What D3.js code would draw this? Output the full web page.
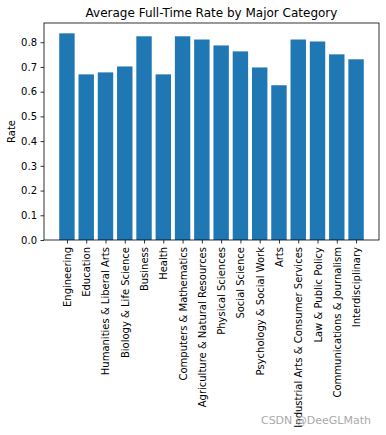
<!DOCTYPE html>
<html>
<head>
<meta charset="utf-8">
<script src="https://cdn.jsdelivr.net/npm/d3@7"></script>
<style>
  body { margin: 0; background: #fff; }
  svg text { font-family: "DejaVu Sans", sans-serif; fill: #000; }
  .axis path, .axis line { stroke: #000; stroke-width: 0.8; }
</style>
</head>
<body>
<svg width="386" height="435"></svg>
<script>
// Major categories (x axis)
var categories = ['Engineering', 'Education', 'Humanities & Liberal Arts', 'Biology & Life Science',
    'Business', 'Health', 'Computers & Mathematics', 'Agriculture & Natural Resources',
    'Physical Sciences', 'Social Science', 'Psychology & Social Work', 'Arts',
    'Industrial Arts & Consumer Services', 'Law & Public Policy', 'Communications & Journalism',
    'Interdisciplinary'];
// Average full-time rate per category
var rates = [0.836, 0.670, 0.678, 0.702, 0.824, 0.670, 0.824, 0.811,
    0.787, 0.763, 0.698, 0.626, 0.811, 0.803, 0.751, 0.731];
var yTicks = [0.0, 0.1, 0.2, 0.3, 0.4, 0.5, 0.6, 0.7, 0.8];

var svg = d3.select('svg');
var padding = {t: 23, r: 7, b: 195, l: 44};
var chartWidth = 386 - padding.l - padding.r;
var chartHeight = 435 - padding.t - padding.b;

var data = categories.map(function(c, i) {
    return {category: c, rate: rates[i], i: i};
});

// matplotlib-like margins around bars
var n = categories.length;
var span = (n - 1) + 0.8;
var xScale = d3.scaleLinear()
    .domain([-0.4 - span * 0.05, n - 1 + 0.4 + span * 0.05])
    .range([0, chartWidth]);

var yMax = d3.max(rates) * 1.05;
var yScale = d3.scaleLinear()
    .domain([0, yMax])
    .range([chartHeight, 0]);

var chartG = svg.append('g')
    .attr('transform', 'translate(' + [padding.l, padding.t] + ')');

chartG.selectAll('.bar')
    .data(data)
    .enter()
    .append('rect')
    .attr('class', 'bar')
    .attr('x', function(d) { return xScale(d.i - 0.4); })
    .attr('width', function(d) { return xScale(d.i + 0.4) - xScale(d.i - 0.4); })
    .attr('y', function(d) { return yScale(d.rate); })
    .attr('height', function(d) { return chartHeight - yScale(d.rate); })
    .attr('fill', '#1f77b4');

// frame
chartG.append('rect')
    .attr('width', chartWidth)
    .attr('height', chartHeight)
    .attr('fill', 'none')
    .attr('stroke', '#000')
    .attr('stroke-width', 0.8);

// y axis
var yAxis = chartG.append('g')
    .attr('class', 'axis')
    .call(d3.axisLeft(yScale).tickValues(yTicks).tickFormat(d3.format('.1f'))
        .tickSize(3.5).tickPadding(3.5));
yAxis.select('.domain').remove();
yAxis.selectAll('text').style('font-size', '10px');

// x axis
var xAxis = chartG.append('g')
    .attr('class', 'axis')
    .attr('transform', 'translate(0,' + chartHeight + ')')
    .call(d3.axisBottom(xScale).tickValues(d3.range(n))
        .tickFormat(function(i) { return categories[i]; })
        .tickSize(3.5).tickPadding(3.5));
xAxis.select('.domain').remove();
xAxis.selectAll('text')
    .style('font-size', '10px')
    .attr('text-anchor', 'end')
    .attr('transform', 'rotate(-90)')
    .attr('x', -7)
    .attr('y', 0)
    .attr('dy', '0.35em');

// title
svg.append('text')
    .attr('x', padding.l + chartWidth / 2)
    .attr('y', 17)
    .attr('text-anchor', 'middle')
    .style('font-size', '12px')
    .text('Average Full-Time Rate by Major Category');

// y label
svg.append('text')
    .attr('transform', 'translate(15,' + (padding.t + chartHeight / 2) + ') rotate(-90)')
    .attr('text-anchor', 'middle')
    .style('font-size', '10px')
    .text('Rate');

// watermark
svg.append('text')
    .attr('x', 371)
    .attr('y', 424)
    .attr('text-anchor', 'end')
    .style('font-size', '11px')
    .style('fill', '#aaa')
    .text('CSDN @DeeGLMath');
</script>
</body>
</html>
